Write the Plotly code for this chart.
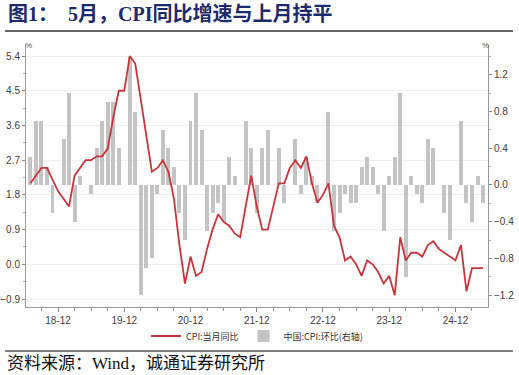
import plotly.graph_objects as go

# ---- data ----
months = [f"{y}-{m:02d}" for y in range(2018, 2026) for m in range(1, 13)]
months = months[months.index("2018-07"):months.index("2025-05") + 1]

cpi_yoy = [2.1, 2.3, 2.5, 2.5, 2.2, 1.9,
           1.7, 1.5, 2.3, 2.5, 2.7, 2.7, 2.8, 2.8, 3.0, 3.8, 4.5, 4.5,
           5.4, 5.2, 4.3, 3.3, 2.4, 2.5, 2.7, 2.4, 1.7, 0.5, -0.5, 0.2,
           -0.3, -0.2, 0.4, 0.9, 1.3, 1.1, 1.0, 0.8, 0.7, 1.5, 2.3, 1.5,
           0.9, 0.9, 1.5, 2.1, 2.1, 2.5, 2.7, 2.5, 2.8, 2.1, 1.6, 1.8,
           2.1, 1.0, 0.7, 0.1, 0.2, 0.0, -0.3, 0.1, 0.0, -0.2, -0.5, -0.3,
           -0.8, 0.7, 0.1, 0.3, 0.3, 0.2, 0.5, 0.6, 0.4, 0.3, 0.2, 0.1,
           0.5, -0.7, -0.1, -0.1, -0.1]

cpi_mom = [0.3, 0.7, 0.7, 0.2, -0.3, 0.0,
           0.5, 1.0, -0.4, 0.1, 0.0, -0.1, 0.4, 0.7, 0.9, 0.9, 0.4, 0.0,
           1.4, 0.8, -1.2, -0.9, -0.8, -0.1, 0.6, 0.4, 0.2, -0.3, -0.6, 0.7,
           1.0, 0.6, -0.5, -0.3, -0.2, -0.4, 0.3, 0.1, 0.0, 0.7, 0.4, -0.3,
           0.4, 0.6, 0.0, 0.4, -0.2, 0.0, 0.5, -0.1, 0.3, 0.1, -0.2, 0.0,
           0.8, -0.5, -0.3, -0.1, -0.2, -0.2, 0.2, 0.3, 0.2, -0.1, -0.5, 0.1,
           0.3, 1.0, -1.0, 0.1, -0.1, -0.2, 0.5, 0.4, 0.0, -0.3, -0.6, 0.0,
           0.7, -0.2, -0.4, 0.1, -0.2]

tick_months = ["2018-12", "2019-12", "2020-12", "2021-12", "2022-12", "2023-12", "2024-12"]
tick_labels = ["18-12", "19-12", "20-12", "21-12", "22-12", "23-12", "24-12"]

title_text = "图1：  5月，CPI同比增速与上月持平"
source_text = "资料来源：Wind，诚通证券研究所"
name_yoy = "CPI:当月同比"
name_mom = "中国:CPI:环比(右轴)"

# ---- figure ----
W, H = 519, 375
L, R, T, B = 26, 488, 45, 307

def px_x(p):
    return (p - L) / (R - L)

def px_y(p):
    return (B - p) / (B - T)

xs = list(range(len(months)))
tickvals = [months.index(m) for m in tick_months]

fig = go.Figure()
fig.add_trace(go.Bar(x=xs, y=cpi_mom, name=name_mom, marker_color="#c4c4c4",
                     marker_line_width=0, width=0.72, yaxis="y"))
fig.add_trace(go.Scatter(x=xs, y=cpi_yoy, name=name_yoy, mode="lines",
                         line=dict(color="#c9353b", width=1.8), yaxis="y2"))

tickfont = dict(family="Liberation Sans, Arial", size=10, color="#404040")

fig.update_layout(
    width=W, height=H, autosize=False,
    margin=dict(l=L, r=W - R, t=T, b=H - B, pad=0, autoexpand=False),
    paper_bgcolor="white", plot_bgcolor="white",
    showlegend=True,
    legend=dict(orientation="h", x=0.5, xanchor="center", y=px_y(336), yanchor="middle",
                font=dict(family="Noto Sans CJK SC", size=9, color="#333333"),
                traceorder="reversed", itemwidth=30, bgcolor="rgba(0,0,0,0)"),
    bargap=0,
    xaxis=dict(range=[-0.8, 82.9], tickvals=tickvals, ticktext=tick_labels, automargin=False,
               ticks="outside", ticklen=4, tickcolor="#888888", showline=True,
               linecolor="#999999", linewidth=1, showgrid=False, zeroline=False,
               tickfont=tickfont,
               minor=dict(tick0=2, dtick=3, ticks="outside", ticklen=3, tickcolor="#999999")),
    yaxis=dict(side="right", range=[-1.33, 1.526], tick0=0, dtick=0.4, tickformat=".1f",
               automargin=False,
               ticks="outside", ticklen=3, tickcolor="#888888", showline=True,
               linecolor="#999999", showgrid=False, zeroline=False, tickfont=tickfont,
               minor=dict(tick0=0, dtick=0.2, ticks="outside", ticklen=2, tickcolor="#aaaaaa")),
    yaxis2=dict(side="left", overlaying="y", range=[-1.107, 5.687], tick0=0, dtick=0.9,
                automargin=False,
                tickformat=".1f", ticks="outside", ticklen=3, tickcolor="#888888",
                showline=True, linecolor="#999999", showgrid=True, gridcolor="#efefef",
                zeroline=False, tickfont=tickfont,
                minor=dict(tick0=0, dtick=0.45, ticks="outside", ticklen=2, tickcolor="#aaaaaa")),
)

annotations = [
    dict(text=title_text, xref="paper", yref="paper", x=px_x(6), y=px_y(14),
         xanchor="left", yanchor="middle", showarrow=False,
         font=dict(family="Liberation Serif, Noto Sans CJK SC", size=20, color="#1d2a6b",
                   weight="bold")),
    dict(text=source_text, xref="paper", yref="paper", x=px_x(5), y=px_y(363),
         xanchor="left", yanchor="middle", showarrow=False,
         font=dict(family="Liberation Serif, Noto Sans CJK SC", size=17, color="#111111")),
    dict(text="%", xref="paper", yref="paper", x=px_x(28), y=px_y(45),
         xanchor="center", yanchor="middle", showarrow=False,
         font=dict(family="Liberation Sans", size=8, color="#555555")),
    dict(text="%", xref="paper", yref="paper", x=px_x(485), y=px_y(45),
         xanchor="center", yanchor="middle", showarrow=False,
         font=dict(family="Liberation Sans", size=8, color="#555555")),
]
fig.update_layout(annotations=annotations)

fig.add_shape(type="line", xref="paper", yref="paper", x0=px_x(5), x1=px_x(513),
              y0=px_y(31), y1=px_y(31), line=dict(color="#666666", width=2))
fig.add_shape(type="line", xref="paper", yref="paper", x0=px_x(5), x1=px_x(513),
              y0=px_y(351), y1=px_y(351), line=dict(color="#555555", width=1.5))

fig.write_html("out.html", config={"displayModeBar": False},
               post_script="document.body.style.margin='0';document.body.style.overflow='hidden';")
